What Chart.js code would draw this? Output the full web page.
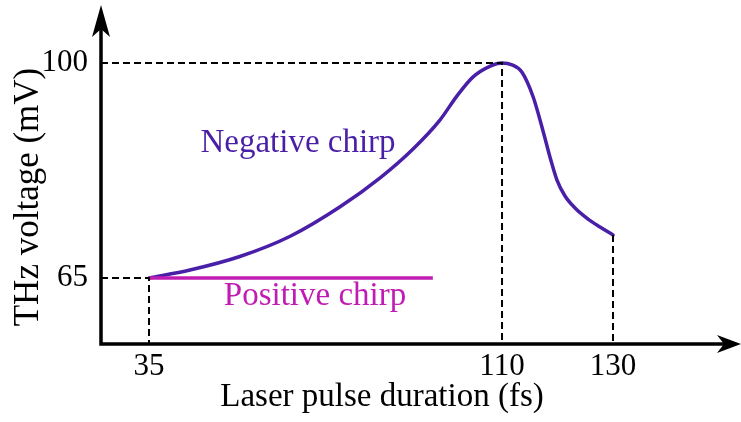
<!DOCTYPE html>
<html><head><meta charset="utf-8">
<script src="https://cdn.jsdelivr.net/npm/chart.js@4/dist/chart.umd.min.js"></script>
<style>html,body{margin:0;padding:0;background:#fff}#wrap{width:741px;height:422px}</style>
</head><body><div id="wrap"><canvas id="c"></canvas></div>
<script>
// ---- data ----
const X_TICKS = [35, 110, 130];
const Y_TICKS = [65, 100];
const NEG_X = [35, 43.7, 54.3, 65.0, 75.6, 84.1, 91.1, 96.8, 100.4, 103.8, 107.5, 110, 111.8, 113.6, 115.6, 117.4, 118.7, 119.9, 121.35, 123.15, 125.5, 127.66, 130];
const NEG_Y = [65, 66.3, 68.5, 71.8, 76.6, 81.3, 86.0, 90.7, 94.6, 97.7, 99.5, 100, 99.7, 98.5, 94.5, 88.9, 84.5, 80.95, 78.35, 76.4, 74.6, 73.3, 72.0];
const POS_X = [35, 95.3];
const POS_Y = [65, 65];
const SERIES_NAMES = ['Negative chirp', 'Positive chirp'];

// ---- axis limits (schematic: axis is stretched after 110 fs) ----
const X_MIN = 24.8, X_MAX = 144.2;
const Y_MIN = 54.26, Y_MAX = 102.11;
const BREAK = 110, STRETCH = 1.179;
const warp = v => v <= BREAK ? v : BREAK + (v - BREAK) * STRETCH;
const unwarp = w => w <= BREAK ? w : BREAK + (w - BREAK) / STRETCH;

class WarpScale extends Chart.LinearScale {
  getPixelForValue(v) { return super.getPixelForValue(warp(v)); }
  getValueForPixel(p) { return unwarp(super.getValueForPixel(p)); }
}
WarpScale.id = 'warp';
WarpScale.defaults = Chart.LinearScale.defaults;
Chart.register(WarpScale);

const NEG_COLOR = '#4a1fa8';
const POS_COLOR = '#c01cb4';
const SERIF = '"Liberation Serif", "Times New Roman", serif';

const pts = (xs, ys) => xs.map((x, i) => ({x, y: ys[i]}));
const endNeg = NEG_X.length - 1;
const peakIdx = NEG_Y.indexOf(Math.max(...NEG_Y));

const guide = data => ({data, borderColor: '#000', borderWidth: 2, borderDash: [7, 4], pointRadius: 0, tension: 0, fill: false});

const axesPlugin = {
  id: 'axes',
  afterDatasetsDraw(chart) {
    const ctx = chart.ctx, a = chart.chartArea;
    const x0 = a.left, y0 = a.bottom;
    ctx.save();
    ctx.strokeStyle = '#000'; ctx.fillStyle = '#000'; ctx.lineWidth = 3.5;
    ctx.beginPath();
    ctx.moveTo(x0, y0 + 1.75); ctx.lineTo(x0, 20);
    ctx.moveTo(x0 - 1.75, y0); ctx.lineTo(chart.width - 15, y0);
    ctx.stroke();
    // up arrow
    ctx.beginPath();
    ctx.moveTo(x0, 5); ctx.lineTo(x0 + 9, 37); ctx.lineTo(x0, 29); ctx.lineTo(x0 - 9, 37); ctx.closePath(); ctx.fill();
    // right arrow
    const xr = chart.width;
    ctx.beginPath();
    ctx.moveTo(xr, y0); ctx.lineTo(xr - 24, y0 - 9); ctx.lineTo(xr - 17, y0); ctx.lineTo(xr - 24, y0 + 9); ctx.closePath(); ctx.fill();
    // series labels
    ctx.font = '33px ' + SERIF;
    ctx.textAlign = 'center'; ctx.textBaseline = 'alphabetic';
    ctx.fillStyle = NEG_COLOR;
    ctx.fillText(SERIES_NAMES[0], 298, 152);
    ctx.fillStyle = POS_COLOR;
    ctx.fillText(SERIES_NAMES[1], 315, 305);
    ctx.restore();
  }
};

new Chart(document.getElementById('c'), {
  type: 'line',
  data: {
    datasets: [
      guide([{x: X_MIN, y: NEG_Y[0]}, {x: NEG_X[0], y: NEG_Y[0]}, {x: NEG_X[0], y: Y_MIN}]),
      guide([{x: X_MIN, y: NEG_Y[peakIdx]}, {x: NEG_X[peakIdx], y: NEG_Y[peakIdx]}, {x: NEG_X[peakIdx], y: Y_MIN}]),
      guide([{x: NEG_X[endNeg], y: NEG_Y[endNeg]}, {x: NEG_X[endNeg], y: Y_MIN}]),
      {label: SERIES_NAMES[1], data: pts(POS_X, POS_Y), borderColor: POS_COLOR, borderWidth: 3.5, pointRadius: 0, tension: 0},
      {label: SERIES_NAMES[0], data: pts(NEG_X, NEG_Y), borderColor: NEG_COLOR, borderWidth: 3.5, pointRadius: 0, cubicInterpolationMode: 'monotone', borderCapStyle: 'round'}
    ]
  },
  options: {
    responsive: true, maintainAspectRatio: false, animation: false,
    layout: {padding: {top: 50, right: 78, left: 0, bottom: 0}},
    plugins: {legend: {display: false}, tooltip: {enabled: false}},
    scales: {
      x: {
        type: 'warp', position: 'bottom', min: X_MIN, max: X_MAX,
        afterBuildTicks: s => { s.ticks = X_TICKS.map(v => ({value: v})); },
        afterFit: s => { s.height = 78; },
        grid: {display: false, drawTicks: false}, border: {display: false},
        ticks: {padding: 4, color: '#000', font: {family: SERIF, size: 31}, callback: v => String(v), maxRotation: 0, autoSkip: false},
        title: {display: true, text: 'Laser pulse duration (fs)', color: '#000', font: {family: SERIF, size: 33}, padding: {top: 0, bottom: 5}}
      },
      y: {
        type: 'linear', position: 'left', min: Y_MIN, max: Y_MAX,
        afterBuildTicks: s => { s.ticks = Y_TICKS.map(v => ({value: v})); },
        afterFit: s => { s.width = 101; },
        grid: {display: false, drawTicks: false}, border: {display: false},
        ticks: {padding: 13, color: '#000', font: {family: SERIF, size: 31}, callback: v => String(v), autoSkip: false},
        title: {display: true, text: 'THz voltage (mV)', color: '#000', font: {family: SERIF, size: 35}, padding: {top: 8, bottom: 0}}
      }
    }
  },
  plugins: [axesPlugin]
});
</script>
</body></html>
